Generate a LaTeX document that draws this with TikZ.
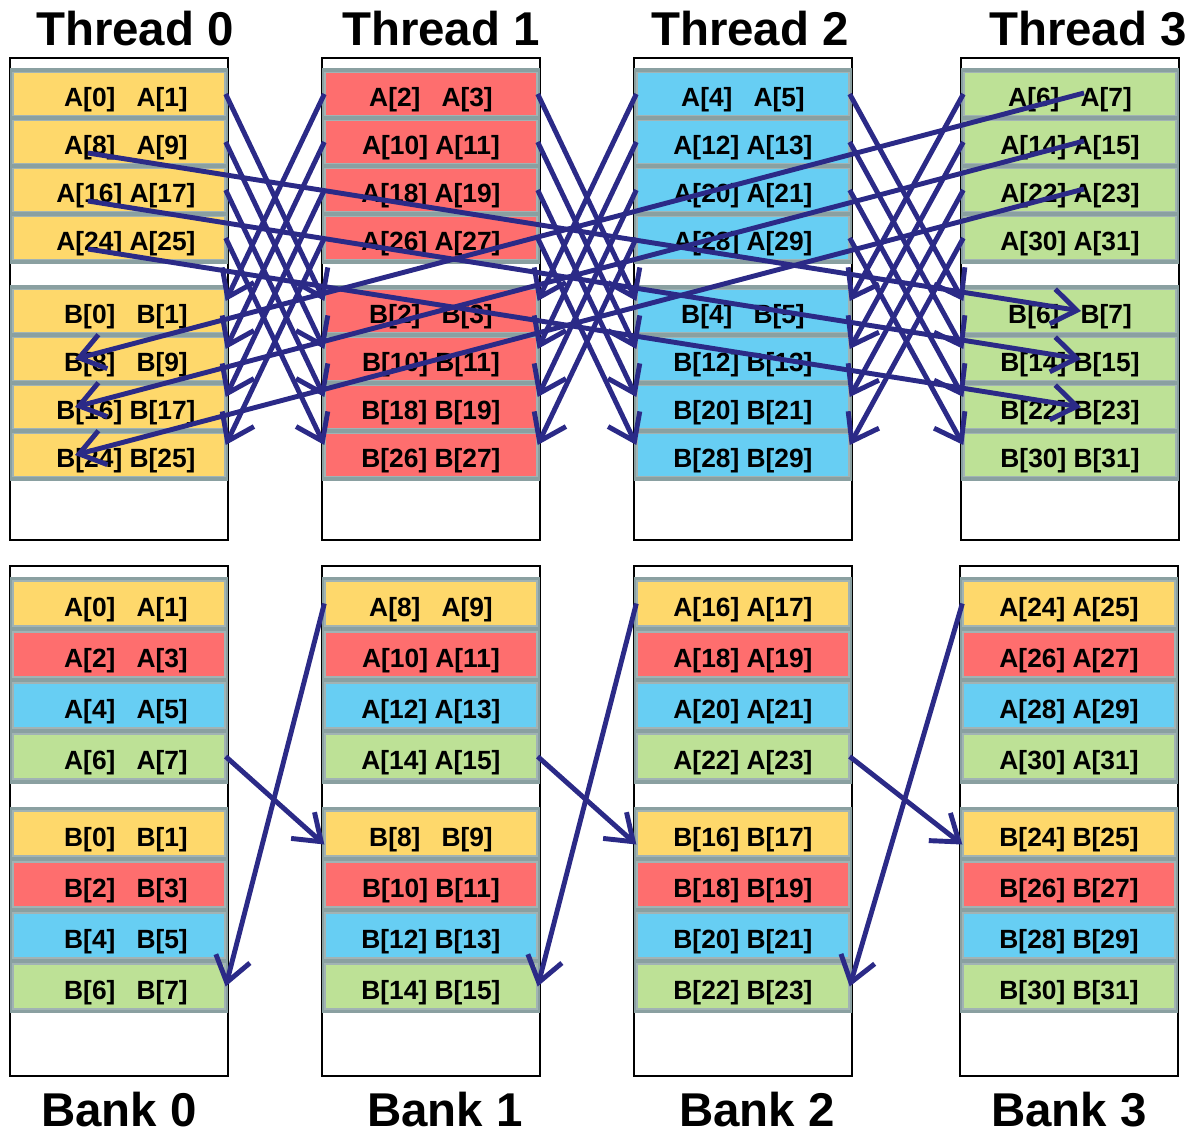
\documentclass[tikz,border=0pt]{standalone}
\usepackage{fontspec}
\setmainfont{Liberation Sans}
\usetikzlibrary{calc,arrows.meta,positioning}

\definecolor{cellY}{HTML}{FED86B}
\definecolor{cellR}{HTML}{FE6E6E}
\definecolor{cellB}{HTML}{67CEF3}
\definecolor{cellG}{HTML}{BDE196}
\definecolor{bandgray}{HTML}{8AA0A1}
\definecolor{arrowblue}{HTML}{2B2A87}

% two array entries in one cell
\newcommand{\cellpair}[2]{%
  \pgfmathtruncatemacro{\nxt}{#2+1}%
  \ifnum#2<10 #1[#2]\hspace{0.8em}#1[\nxt]\else #1[#2] #1[\nxt]\fi}

\begin{document}
\begin{tikzpicture}[x=0.02cm, y=-0.02cm, >={Straight Barb[length=14pt,width=20pt]},
  cell/.style={draw=bandgray!80!white, line width=0.8pt, minimum width=4.24cm,
    minimum height=0.86cm, inner sep=0pt, text height=0.5cm, text depth=0cm,
    font=\fontsize{15}{15}\selectfont\bfseries},
  title/.style={anchor=base, inner sep=0pt, font=\fontsize{27}{27}\selectfont\bfseries},
  memline/.style={draw=black, line width=1.1pt},
  flow/.style={->, draw=arrowblue, line width=2.8pt}]
	\useasboundingbox (0,0) rectangle (1186,1136);

	% threads
	\foreach \k/\xl/\col/\tx/\ts in {0/10/cellY/135/0.28cm,1/322/cellR/441/0cm,2/634/cellB/750/0cm,3/961/cellG/1088/0cm}{
		\node[title] (thread\k) at (\tx,45) {Thread \k};
		\draw[memline] (\xl,58) rectangle ++(218,482);
		\fill[bandgray] (\xl,68) rectangle ++(218,196);
		\fill[bandgray] (\xl,285) rectangle ++(218,196);
		\foreach \i in {0,...,3}{
			\pgfmathtruncatemacro{\ia}{2*\k+8*\i}
			\node[cell, fill=\col] (tA-\k-\i) at (\xl+109,94+48*\i) {\hspace*{\ts}\cellpair{A}{\ia}};
			\node[cell, fill=\col] (tB-\k-\i) at (\xl+109,311+48*\i) {\hspace*{\ts}\cellpair{B}{\ia}};
		}
	}

	% banks
	\foreach \k/\xl/\tx/\ts in {0/10/119/0.28cm,1/322/445/0cm,2/634/757/0cm,3/960/1069/0cm}{
		\node[title] (bank\k) at (\tx,1126) {Bank \k};
		\draw[memline] (\xl,566) rectangle ++(218,510);
		\fill[bandgray] (\xl,577) rectangle ++(218,207);
		\fill[bandgray] (\xl,807) rectangle ++(218,206);
		\foreach \i/\col in {0/cellY,1/cellR,2/cellB,3/cellG}{
			\pgfmathtruncatemacro{\ia}{8*\k+2*\i}
			\node[cell, fill=\col, minimum height=0.9cm] (bA-\k-\i) at (\xl+109,603.5+51*\i) {\hspace*{\ts}\cellpair{A}{\ia}};
			\node[cell, fill=\col, minimum height=0.9cm] (bB-\k-\i) at (\xl+109,833.5+51*\i) {\hspace*{\ts}\cellpair{B}{\ia}};
		}
	}

	% crossing accesses
	\foreach \k in {0,1,2}{
		\pgfmathtruncatemacro{\m}{\k+1}
		\foreach \i in {0,...,3}{
			\path
			(tA-\k-\i.east) edge[flow] ([yshift=0.2cm]tB-\m-\i.west)
			(tA-\m-\i.west) edge[flow] ([yshift=0.2cm]tB-\k-\i.east);
		}
		\path
		(bA-\k-3.east) edge[flow] ([yshift=-0.22cm]bB-\m-0.west)
		(bA-\m-0.west) edge[flow] (bB-\k-3.east);
	}

	% long accesses
	\foreach \i in {1,2,3}{
		\pgfmathtruncatemacro{\j}{\i-1}
		\path
		($(tA-0-\i)+(-31,11)$) edge[flow] ($(tB-3-\j)+(11,0)$)
		($(tA-3-\j)+(14,-1)$) edge[flow] ($(tB-0-\i)+(-44,0)$);
	}
\end{tikzpicture}
\end{document}
